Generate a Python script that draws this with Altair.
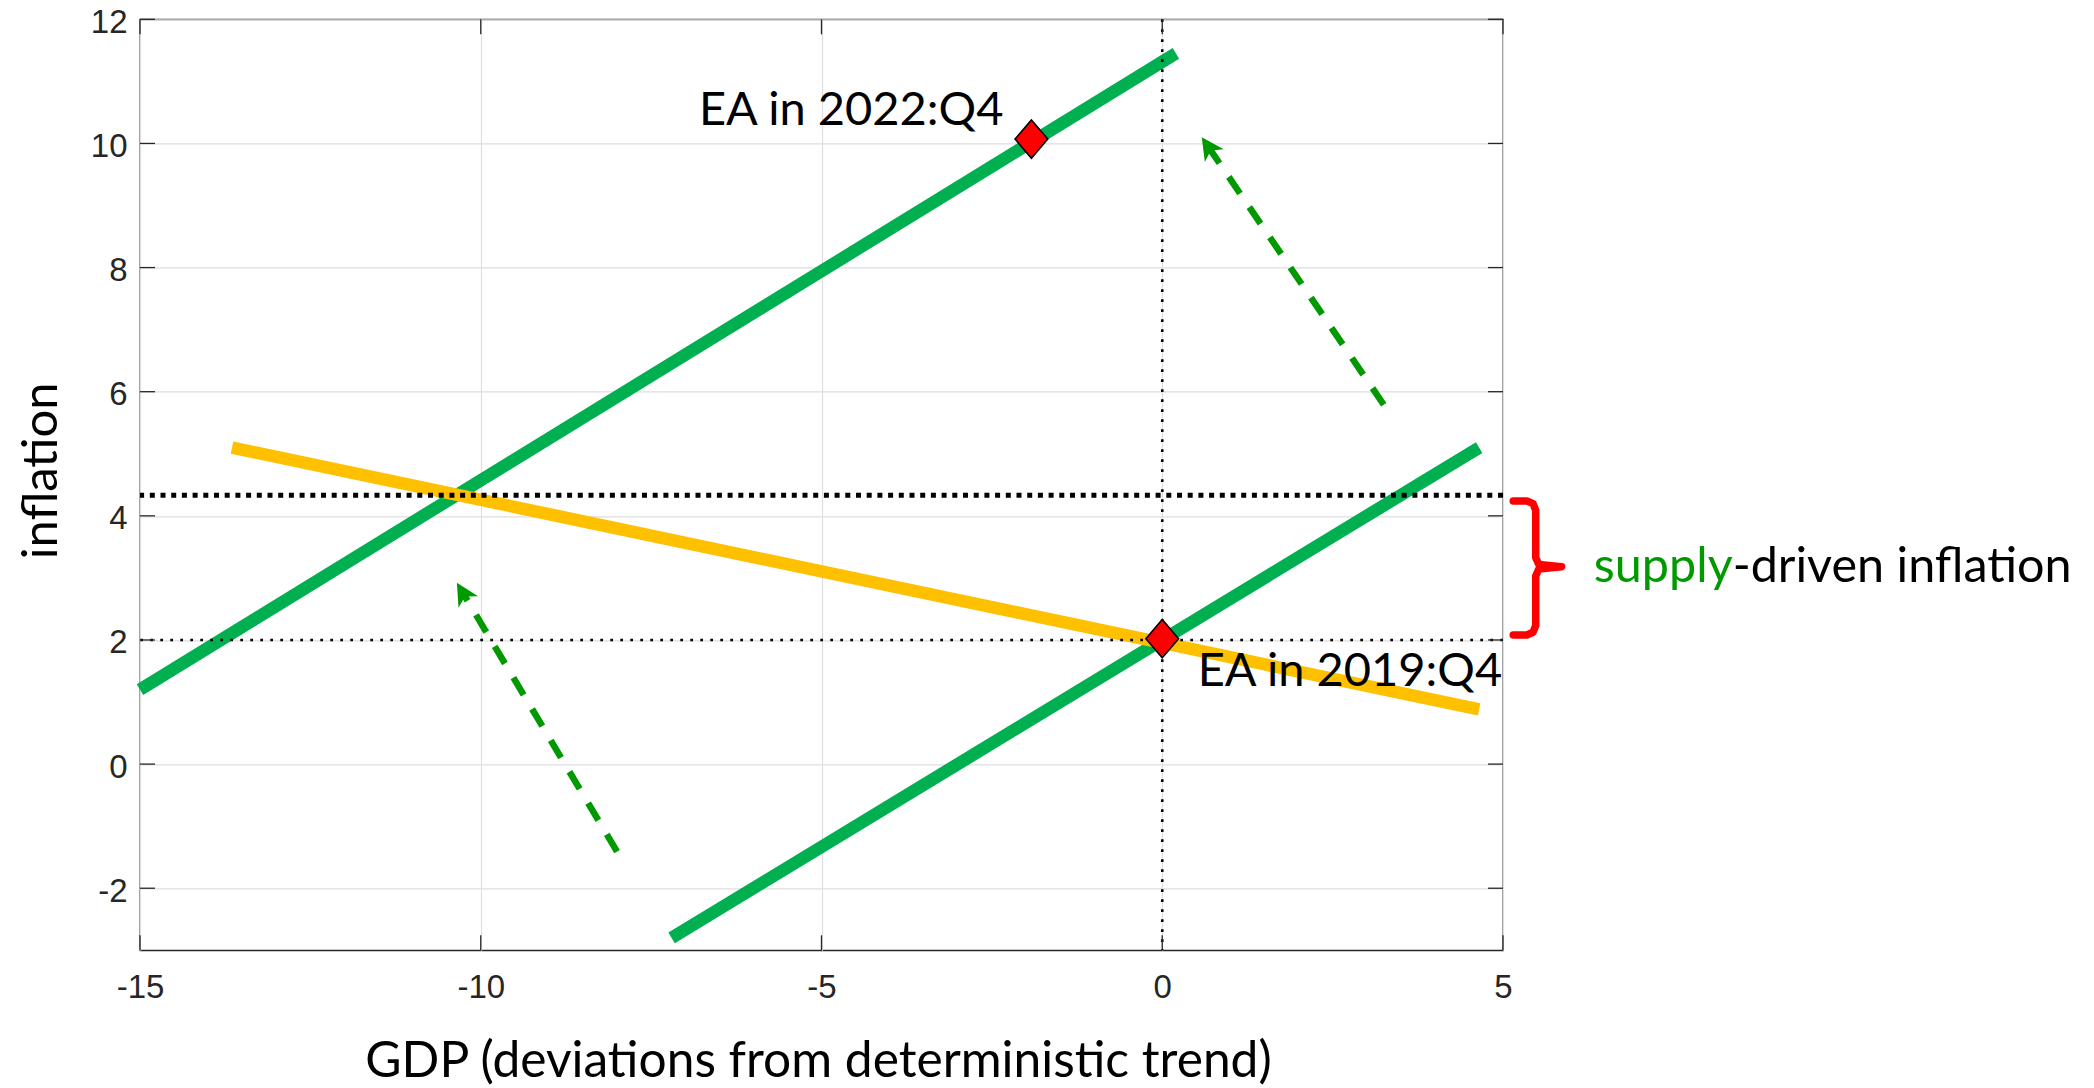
import math
import altair as alt
import pandas as pd

# ---------------- data ----------------
x_domain = [-15, 5]
y_domain = [-3, 12]
x_ticks = [-15, -10, -5, 0, 5]
y_ticks = [-2, 0, 2, 4, 6, 8, 10, 12]

as_2022_x = [-15.0, 0.2]
as_2022_y = [1.2, 11.45]
as_2019_x = [-7.2, 4.65]
as_2019_y = [-2.8, 5.1]
ad_x = [-13.65, 4.65]
ad_y = [5.1, 0.88]

point_names = ["EA in 2022:Q4", "EA in 2019:Q4"]
point_x = [-1.92, 0.0]
point_y = [10.07, 2.02]

label_x = [-2.33, 0.52]
label_y = [10.29, 1.26]

level_high = 4.33
level_low = 2.0
vline_x = 0.0

arrow_tail_x = [-8.0, 3.25]
arrow_tail_y = [-1.41, 5.79]
arrow_tip_x = [-10.35, 0.58]
arrow_tip_y = [2.92, 10.10]

brace_top = 4.24
brace_bottom = 2.08
brace_mid = 3.18
brace_x_end = 5.15
brace_x_stem = 5.48
brace_x_tip = 5.86

note_x = 8.37
note_y = 2.94
note_parts = ["supply", "-driven inflation"]

x_title = "GDP (deviations from deterministic trend)"
y_title = "inflation"

# ---------------- layout / style ----------------
W, H = 1363, 931
GREEN = "#00B050"
GOLD = "#FFC000"
DARKGREEN = "#009900"
AXC = "#262626"
TICK_LEN = 15

px_x = W / (x_domain[1] - x_domain[0])
px_y = H / (y_domain[1] - y_domain[0])

xs = alt.Scale(domain=x_domain, nice=False, zero=False)
ys = alt.Scale(domain=y_domain, nice=False, zero=False)

x_axis = alt.Axis(
    values=x_ticks, grid=True, gridColor="#dedede", gridWidth=1.2,
    domain=False, ticks=False, labelFont="Liberation Sans", labelFontSize=33,
    labelColor=AXC, labelPadding=21, labelFlush=False, labelOverlap=False,
    labelExpr="'' + datum.value",
    title=x_title, titleFont="Lato", titleFontSize=49.7, titleFontWeight="normal",
    titleColor="black", titleX=678, titleY=126, titleBaseline="alphabetic",
)
y_axis = alt.Axis(
    values=y_ticks, grid=True, gridColor="#dedede", gridWidth=1.2,
    domain=False, ticks=False, labelFont="Liberation Sans", labelFontSize=33,
    labelColor=AXC, labelPadding=13, labelOffset=3, labelFlush=False, labelOverlap=False,
    labelExpr="'' + datum.value",
    title=y_title, titleFont="Lato", titleFontSize=49, titleFontWeight="normal",
    titleColor="black", titleX=-84, titleY=451, titleAngle=270,
    titleBaseline="alphabetic",
)


def X(field="x"):
    return alt.X(f"{field}:Q", scale=xs, axis=x_axis)


def Y(field="y"):
    return alt.Y(f"{field}:Q", scale=ys, axis=y_axis)


def line_layer(xv, yv, color):
    df = pd.DataFrame({"x": xv, "y": yv, "o": list(range(len(xv)))})
    return alt.Chart(df).mark_line(color=color, strokeWidth=12.5, strokeCap="butt").encode(
        x=X(), y=Y(), order="o:Q",
    )


green22 = line_layer(as_2022_x, as_2022_y, GREEN)
green19 = line_layer(as_2019_x, as_2019_y, GREEN)
gold = line_layer(ad_x, ad_y, GOLD)

hi = alt.Chart(pd.DataFrame({"y": [level_high]})).mark_rule(
    color="black", strokeWidth=5, strokeDash=[5, 5.7]).encode(y=Y())
lo = alt.Chart(pd.DataFrame({"y": [level_low]})).mark_rule(
    color="black", strokeWidth=2.6, strokeDash=[2.7, 7.3]).encode(y=Y())
vl = alt.Chart(pd.DataFrame({"x": [vline_x]})).mark_rule(
    color="black", strokeWidth=2.6, strokeDash=[2.7, 7.3]).encode(x=X())

# arrows
arrow_rows = []
head_rows = []
for i in range(len(arrow_tail_x)):
    dx = (arrow_tip_x[i] - arrow_tail_x[i]) * px_x
    dy = -(arrow_tip_y[i] - arrow_tail_y[i]) * px_y
    L = math.hypot(dx, dy)
    ux, uy = dx / L, dy / L
    back = 12
    end_x = arrow_tip_x[i] - back * ux / px_x
    end_y = arrow_tip_y[i] + back * uy / px_y
    arrow_rows.append({"id": i, "o": 0, "x": arrow_tail_x[i], "y": arrow_tail_y[i]})
    arrow_rows.append({"id": i, "o": 1, "x": end_x, "y": end_y})
    ang = math.degrees(math.atan2(dx, -dy)) % 360
    head_rows.append({"x": arrow_tip_x[i], "y": arrow_tip_y[i], "ang": ang})

arrows = alt.Chart(pd.DataFrame(arrow_rows)).mark_line(
    color=DARKGREEN, strokeWidth=6.5, strokeDash=[20, 16.5], strokeCap="butt").encode(
    x=X(), y=Y(), detail="id:N", order="o:Q")
heads = alt.Chart(pd.DataFrame(head_rows)).mark_point(
    shape="M0,0L-1,1.95L0,1.4L1,1.95Z", filled=True, size=520, opacity=1,
    color=DARKGREEN, strokeWidth=0).encode(
    x=X(), y=Y(), angle=alt.Angle("ang:Q", scale=None))

markers = alt.Chart(pd.DataFrame({"x": point_x, "y": point_y, "name": point_names})).mark_point(
    shape="M-1,0L0,-1.17L1,0L0,1.17Z", filled=True, size=1070, opacity=1,
    fill="#FF0000", stroke="black", strokeWidth=1.6).encode(x=X(), y=Y())

lab22 = alt.Chart(pd.DataFrame({"x": [label_x[0]], "y": [label_y[0]], "t": [point_names[0]]})).mark_text(
    font="Lato", fontSize=47, align="right", baseline="alphabetic", color="black").encode(
    x=X(), y=Y(), text="t:N")
lab19 = alt.Chart(pd.DataFrame({"x": [label_x[1]], "y": [label_y[1]], "t": [point_names[1]]})).mark_text(
    font="Lato", fontSize=47, align="left", baseline="alphabetic", color="black").encode(
    x=X(), y=Y(), text="t:N")

# brace
rx, ry = 0.13, 0.15
bx = [brace_x_end, brace_x_stem - rx, brace_x_stem - 0.3 * rx, brace_x_stem,
      brace_x_stem, brace_x_stem + 0.35 * rx, brace_x_tip, brace_x_stem + 0.35 * rx,
      brace_x_stem, brace_x_stem, brace_x_stem - 0.3 * rx, brace_x_stem - rx, brace_x_end]
by = [brace_top, brace_top, brace_top - 0.3 * ry, brace_top - ry,
      brace_mid + ry, brace_mid + 0.25 * ry, brace_mid, brace_mid - 0.25 * ry,
      brace_mid - ry, brace_bottom + ry, brace_bottom + 0.3 * ry, brace_bottom, brace_bottom]
brace = alt.Chart(pd.DataFrame({"x": bx, "y": by, "o": list(range(len(bx)))})).mark_line(
    color="#FF0000", strokeWidth=7.5, strokeJoin="round", strokeCap="round", clip=False).encode(
    x=X(), y=Y(), order="o:Q")

note1 = alt.Chart(pd.DataFrame({"x": [note_x], "y": [note_y], "t": [note_parts[0]]})).mark_text(
    font="Lato", fontSize=48.5, align="right", baseline="alphabetic", color=DARKGREEN, clip=False).encode(
    x=X(), y=Y(), text="t:N")
note2 = alt.Chart(pd.DataFrame({"x": [note_x], "y": [note_y], "t": [note_parts[1]]})).mark_text(
    font="Lato", fontSize=48.5, align="left", baseline="alphabetic", color="black", clip=False).encode(
    x=X(), y=Y(), text="t:N")

# inward ticks (MATLAB style box ticks)
ytk = pd.DataFrame({"y": y_ticks})
xtk = pd.DataFrame({"x": x_ticks})
tick_l = alt.Chart(ytk).mark_rule(color=AXC, strokeWidth=1.3).encode(
    y=Y(), x=alt.value(0), x2=alt.value(TICK_LEN))
tick_r = alt.Chart(ytk).mark_rule(color=AXC, strokeWidth=1.3).encode(
    y=Y(), x=alt.value(W - TICK_LEN), x2=alt.value(W))
tick_b = alt.Chart(xtk).mark_rule(color=AXC, strokeWidth=1.3).encode(
    x=X(), y=alt.value(H - TICK_LEN), y2=alt.value(H))
tick_t = alt.Chart(xtk).mark_rule(color=AXC, strokeWidth=1.3).encode(
    x=X(), y=alt.value(0), y2=alt.value(TICK_LEN))

chart = alt.layer(
    green22, green19, gold, hi, lo, vl, arrows, heads, markers,
    lab22, lab19, brace, note1, note2, tick_l, tick_r, tick_b, tick_t,
).properties(
    width=W, height=H,
    autosize=alt.AutoSizeParams(type="none"),
    padding={"left": 132, "top": 11.3, "right": 583, "bottom": 136},
    background="white",
).configure_view(
    stroke=AXC, strokeWidth=1.3,
)

chart.save("out.html", embed_options={"renderer": "svg", "actions": False})
